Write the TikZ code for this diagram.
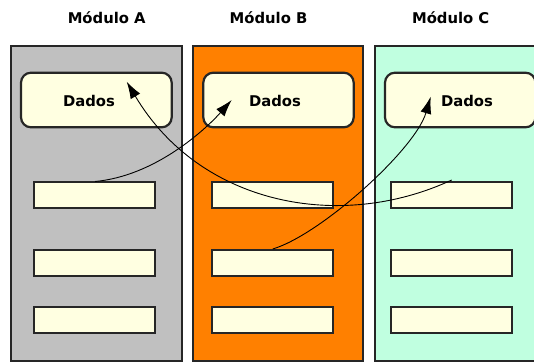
\documentclass[tikz,border=0pt]{standalone}
\usepackage{fontspec}
\setmainfont{DejaVu Sans}
\usetikzlibrary{arrows.meta}
\definecolor{modA}{HTML}{C0C0C0}
\definecolor{modB}{HTML}{FF8000}
\definecolor{modC}{HTML}{C0FFE0}
\definecolor{dat}{HTML}{FFFFE1}
\begin{document}
\begin{tikzpicture}[x=1pt,y=-1pt,
  modbox/.style={draw=black!85,line width=2.2pt},
  datbox/.style={draw=black!85,line width=2.2pt,fill=dat,rounded corners=10pt},
  slot/.style={draw=black!85,line width=2.2pt,fill=dat},
  lbl/.style={font=\bfseries\fontsize{14.8}{16}\selectfont,inner sep=0pt},
  link/.style={line width=0.9pt,-{Latex[length=17pt,width=11pt]}}]
\clip (0,0) rectangle (534,363);
\fill[white] (0,0) rectangle (534,363);
% modules
\draw[modbox,fill=modA] (11,45.7) rectangle (181.7,361) coordinate (mA);
\draw[modbox,fill=modB] (193.3,45.7) rectangle (363.3,361) coordinate (mB);
\draw[modbox,fill=modC] (375,45.7) rectangle (545,361) coordinate (mC);
\node[lbl] (tA) at (106.7,18) {Módulo A};
\node[lbl] (tB) at (268.5,18) {Módulo B};
\node[lbl] (tC) at (450.7,18) {Módulo C};
% data boxes
\draw[datbox] (21,72.7) rectangle (171.7,127.3);
\draw[datbox] (203.3,72.7) rectangle (353.7,127.3);
\draw[datbox] (385,72.7) rectangle (535.5,127.3);
\node[lbl] (dA) at (89,100.5) {Dados};
\node[lbl] (dB) at (275,100.5) {Dados};
\node[lbl] (dC) at (467,100.5) {Dados};
% slots
\foreach \x/\m in {34/A,212/B,390.7/C}{
  \draw[slot] (\x,182.3) rectangle +(121,25.4);
  \draw[slot] (\x,250) rectangle +(121,26);
  \draw[slot] (\x,306.7) rectangle +(121,26);
}
\coordinate (sA1) at (95,181.5);
\coordinate (sB2) at (272.7,249);
\coordinate (sC1) at (451.7,180);
\coordinate (pA) at (126.7,81.7);
\coordinate (pB) at (231.7,100);
\coordinate (pC) at (430.7,96.7);
% connectors
\draw[link] (sA1) .. controls (155,176) and (205,130) .. (pB);
\draw[link] (sC1) .. controls (340,232) and (200,205) .. (pA);
\draw[link] (sB2) .. controls (320,235) and (415,150) .. (pC);
\end{tikzpicture}
\end{document}
